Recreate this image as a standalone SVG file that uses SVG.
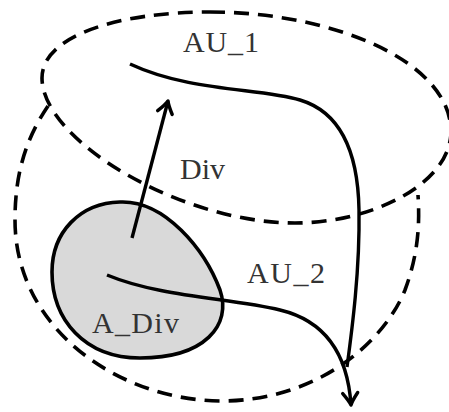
<svg xmlns="http://www.w3.org/2000/svg" width="449" height="412" viewBox="0 0 449 412">
  <style>
    .dash { fill: none; stroke: #000; stroke-width: 3.6; stroke-dasharray: 15 9; }
    .blob { fill: #d9d9d9; stroke: #000; stroke-width: 3.6; }
    .conn { fill: none; stroke: #000; stroke-width: 3.4; }
    .lbl { font-family: "Liberation Serif", "Times New Roman", serif; font-size: 30px; fill: #333; }
  </style>
  <defs>
    <marker id="arr" markerUnits="userSpaceOnUse" markerWidth="30" markerHeight="30" viewBox="-15 -15 30 30" refX="0" refY="0" orient="auto" overflow="visible">
      <path d="M -12,-7.5 Q -4,-1.5 0,0 Q -4,1.5 -12,7.5" fill="none" stroke="#000" stroke-width="3.4" stroke-linecap="round" stroke-linejoin="round"/>
    </marker>
  </defs>

  <g id="AU_1">
    <path class="dash" d="M 210,12 C 330,12 451,60 451,132 C 450,185 370,223 295,223 C 180,223 42,140 42,78 C 42,35 120,12 210,12 Z"/>
    <text class="lbl" x="183" y="52" textLength="76">AU_1</text>
  </g>

  <g id="AU_2">
    <path class="dash" d="M 48,106 C 25,140 15,175 15,220 C 15,330 120,400 220,401 C 320,401 385,340 405,290 C 418,255 420,225 418,195"/>
    <text class="lbl" x="247" y="283" textLength="78">AU_2</text>
  </g>

  <g id="A_Div">
    <path class="blob" d="M 120,202 C 165,200 205,250 220,290 C 232,325 205,358 140,358 C 85,358 52,320 52,272 C 52,232 80,203 120,202 Z"/>
    <text class="lbl" x="92" y="333" textLength="87">A_Div</text>
  </g>

  <g id="connectors">
    <path class="conn" d="M 130,64 C 190,92 260,88 300,100 C 340,112 358,150 359,210 C 360,270 352,330 347,367"/>
    <path class="conn" d="M 107,275 C 160,297 230,298 280,310 C 330,322 348,360 351,405" marker-end="url(#arr)"/>
    <path class="conn" d="M 132,238 L 168,101" marker-end="url(#arr)"/>
    <text class="lbl" x="180" y="179" textLength="45">Div</text>
  </g>
</svg>
